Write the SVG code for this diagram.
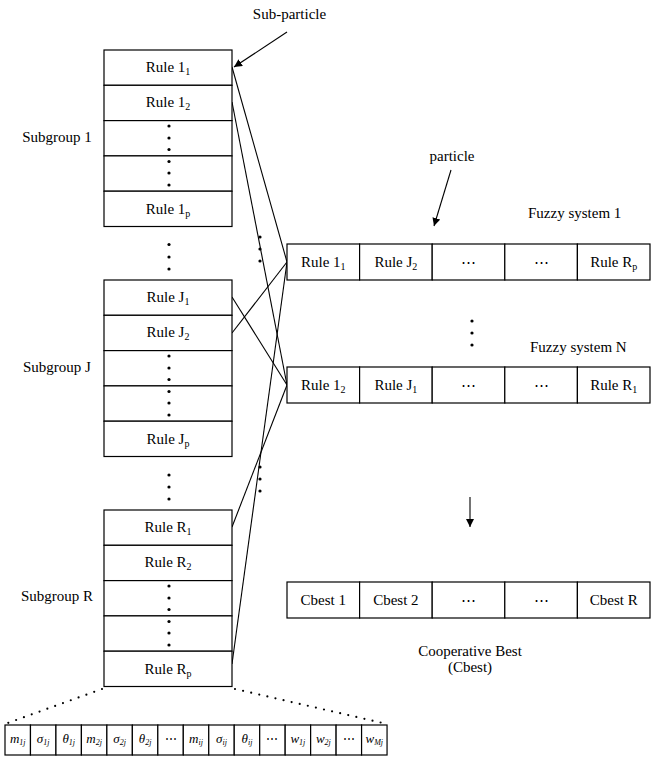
<svg xmlns="http://www.w3.org/2000/svg" width="651" height="758" viewBox="0 0 651 758" font-family="'Liberation Serif','Times New Roman',serif">
<defs>
<style>
text{font-family:"Liberation Serif","Times New Roman",serif;font-size:15px;fill:#000}
.c{text-anchor:middle}
.s{font-size:10px}
.cell{fill:#fff;stroke:#000;stroke-width:1.2}
.ln{stroke:#000;stroke-width:1.1;fill:none}
.dot{fill:#000}
.dl{stroke:#000;stroke-width:2.2;stroke-linecap:round;stroke-dasharray:0 8.3;fill:none}
.p{font-style:italic;font-size:13px}
.ps{font-size:8px}
.el{font-size:12px}
</style>
<marker id="ah" viewBox="0 0 10 10" refX="10" refY="5" markerWidth="8" markerHeight="8" orient="auto" markerUnits="userSpaceOnUse">
<path d="M0,0 L10,5 L0,10 z" fill="#000"/>
</marker>
</defs>
<rect width="651" height="758" fill="#fff"/>

<g id="connectors">
<line class="ln" x1="232" y1="67" x2="287" y2="262"/>
<line class="ln" x1="232" y1="102" x2="287" y2="385"/>
<line class="ln" x1="232" y1="297" x2="287" y2="385"/>
<line class="ln" x1="232" y1="333" x2="287" y2="262"/>
<line class="ln" x1="232" y1="527" x2="287" y2="385"/>
<line class="ln" x1="232" y1="664" x2="287" y2="262"/>
<line class="ln" x1="287" y1="32" x2="234" y2="67" marker-end="url(#ah)"/>
<line class="ln" x1="451" y1="170" x2="434" y2="226" marker-end="url(#ah)"/>
<line class="ln" x1="470" y1="497" x2="470" y2="527" marker-end="url(#ah)"/>
<line class="dl" x1="102" y1="689" x2="5" y2="724"/>
<line class="dl" x1="235" y1="689" x2="387" y2="724"/>
<circle class="dot" cx="260" cy="237" r="1.6"/>
<circle class="dot" cx="260" cy="249" r="1.6"/>
<circle class="dot" cx="260" cy="261" r="1.6"/>
<circle class="dot" cx="260" cy="467" r="1.6"/>
<circle class="dot" cx="260" cy="479" r="1.6"/>
<circle class="dot" cx="260" cy="491" r="1.6"/>
</g>

<g id="subgroup1">
<rect class="cell" x="104" y="50" width="128" height="35.3"/>
<rect class="cell" x="104" y="85.3" width="128" height="35.3"/>
<rect class="cell" x="104" y="120.6" width="128" height="35.3"/>
<rect class="cell" x="104" y="155.9" width="128" height="35.3"/>
<rect class="cell" x="104" y="191.2" width="128" height="35.3"/>
<text class="c" x="168" y="72">Rule 1<tspan class="s" dy="3">1</tspan></text>
<text class="c" x="168" y="107">Rule 1<tspan class="s" dy="3">2</tspan></text>
<text class="c" x="168" y="213.5">Rule 1<tspan class="s" dy="3">p</tspan></text>
<circle class="dot" cx="169" cy="126" r="1.6"/><circle class="dot" cx="169" cy="138" r="1.6"/><circle class="dot" cx="169" cy="149.5" r="1.6"/>
<circle class="dot" cx="169" cy="161.5" r="1.6"/><circle class="dot" cx="169" cy="173" r="1.6"/><circle class="dot" cx="169" cy="185" r="1.6"/>
<text class="c" x="57" y="142">Subgroup 1</text>
</g>

<g id="gap1">
<circle class="dot" cx="169" cy="244.5" r="1.6"/><circle class="dot" cx="169" cy="257" r="1.6"/><circle class="dot" cx="169" cy="269" r="1.6"/>
</g>

<g id="subgroupJ">
<rect class="cell" x="104" y="280" width="128" height="35.3"/>
<rect class="cell" x="104" y="315.3" width="128" height="35.3"/>
<rect class="cell" x="104" y="350.6" width="128" height="35.3"/>
<rect class="cell" x="104" y="385.9" width="128" height="35.3"/>
<rect class="cell" x="104" y="421.2" width="128" height="35.3"/>
<text class="c" x="168" y="302">Rule J<tspan class="s" dy="3">1</tspan></text>
<text class="c" x="168" y="337">Rule J<tspan class="s" dy="3">2</tspan></text>
<text class="c" x="168" y="443.5">Rule J<tspan class="s" dy="3">p</tspan></text>
<circle class="dot" cx="169" cy="356" r="1.6"/><circle class="dot" cx="169" cy="368" r="1.6"/><circle class="dot" cx="169" cy="379.5" r="1.6"/>
<circle class="dot" cx="169" cy="391.5" r="1.6"/><circle class="dot" cx="169" cy="403" r="1.6"/><circle class="dot" cx="169" cy="415" r="1.6"/>
<text class="c" x="57" y="372">Subgroup J</text>
</g>

<g id="gap2">
<circle class="dot" cx="169" cy="475" r="1.6"/><circle class="dot" cx="169" cy="487" r="1.6"/><circle class="dot" cx="169" cy="499" r="1.6"/>
</g>

<g id="subgroupR">
<rect class="cell" x="104" y="510" width="128" height="35.3"/>
<rect class="cell" x="104" y="545.3" width="128" height="35.3"/>
<rect class="cell" x="104" y="580.6" width="128" height="35.3"/>
<rect class="cell" x="104" y="615.9" width="128" height="35.3"/>
<rect class="cell" x="104" y="651.2" width="128" height="35.3"/>
<text class="c" x="168" y="532">Rule R<tspan class="s" dy="3">1</tspan></text>
<text class="c" x="168" y="567">Rule R<tspan class="s" dy="3">2</tspan></text>
<text class="c" x="168" y="673.5">Rule R<tspan class="s" dy="3">p</tspan></text>
<circle class="dot" cx="169" cy="586" r="1.6"/><circle class="dot" cx="169" cy="598" r="1.6"/><circle class="dot" cx="169" cy="609.5" r="1.6"/>
<circle class="dot" cx="169" cy="621.5" r="1.6"/><circle class="dot" cx="169" cy="633" r="1.6"/><circle class="dot" cx="169" cy="645" r="1.6"/>
<text class="c" x="57" y="601">Subgroup R</text>
</g>

<g id="labels">
<text class="c" x="289.5" y="19">Sub-particle</text>
<text class="c" x="452" y="161">particle</text>
<text x="528" y="218">Fuzzy system 1</text>
<text x="530" y="352">Fuzzy system N</text>
<circle class="dot" cx="472" cy="321" r="1.6"/><circle class="dot" cx="472" cy="333" r="1.6"/><circle class="dot" cx="472" cy="345" r="1.6"/>
<text class="c" x="470" y="656">Cooperative Best</text>
<text class="c" x="470" y="672">(Cbest)</text>
</g>

<g id="fuzzy1">
<rect class="cell" x="287" y="244" width="72.6" height="36"/>
<rect class="cell" x="359.6" y="244" width="72.6" height="36"/>
<rect class="cell" x="432.2" y="244" width="72.6" height="36"/>
<rect class="cell" x="504.8" y="244" width="72.6" height="36"/>
<rect class="cell" x="577.4" y="244" width="72.6" height="36"/>
<text class="c" x="323.3" y="266.5">Rule 1<tspan class="s" dy="3">1</tspan></text>
<text class="c" x="395.9" y="266.5">Rule J<tspan class="s" dy="3">2</tspan></text>
<text class="c" x="468.5" y="266.5">⋯</text>
<text class="c" x="541.1" y="266.5">⋯</text>
<text class="c" x="613.7" y="266.5">Rule R<tspan class="s" dy="3">p</tspan></text>
</g>

<g id="fuzzyN">
<rect class="cell" x="287" y="367" width="72.6" height="36"/>
<rect class="cell" x="359.6" y="367" width="72.6" height="36"/>
<rect class="cell" x="432.2" y="367" width="72.6" height="36"/>
<rect class="cell" x="504.8" y="367" width="72.6" height="36"/>
<rect class="cell" x="577.4" y="367" width="72.6" height="36"/>
<text class="c" x="323.3" y="389.5">Rule 1<tspan class="s" dy="3">2</tspan></text>
<text class="c" x="395.9" y="389.5">Rule J<tspan class="s" dy="3">1</tspan></text>
<text class="c" x="468.5" y="389.5">⋯</text>
<text class="c" x="541.1" y="389.5">⋯</text>
<text class="c" x="613.7" y="389.5">Rule R<tspan class="s" dy="3">1</tspan></text>
</g>

<g id="cbest">
<rect class="cell" x="287" y="582" width="72.6" height="36"/>
<rect class="cell" x="359.6" y="582" width="72.6" height="36"/>
<rect class="cell" x="432.2" y="582" width="72.6" height="36"/>
<rect class="cell" x="504.8" y="582" width="72.6" height="36"/>
<rect class="cell" x="577.4" y="582" width="72.6" height="36"/>
<text class="c" x="323.3" y="605">Cbest 1</text>
<text class="c" x="395.9" y="605">Cbest 2</text>
<text class="c" x="468.5" y="605">⋯</text>
<text class="c" x="541.1" y="605">⋯</text>
<text class="c" x="613.7" y="605">Cbest R</text>
</g>

<g id="parameters">
<rect class="cell" x="5" y="725" width="25.47" height="30"/>
<rect class="cell" x="30.47" y="725" width="25.47" height="30"/>
<rect class="cell" x="55.94" y="725" width="25.47" height="30"/>
<rect class="cell" x="81.41" y="725" width="25.47" height="30"/>
<rect class="cell" x="106.88" y="725" width="25.47" height="30"/>
<rect class="cell" x="132.35" y="725" width="25.47" height="30"/>
<rect class="cell" x="157.82" y="725" width="25.47" height="30"/>
<rect class="cell" x="183.29" y="725" width="25.47" height="30"/>
<rect class="cell" x="208.76" y="725" width="25.47" height="30"/>
<rect class="cell" x="234.23" y="725" width="25.47" height="30"/>
<rect class="cell" x="259.7" y="725" width="25.47" height="30"/>
<rect class="cell" x="285.17" y="725" width="25.47" height="30"/>
<rect class="cell" x="310.64" y="725" width="25.47" height="30"/>
<rect class="cell" x="336.11" y="725" width="25.47" height="30"/>
<rect class="cell" x="361.58" y="725" width="25.47" height="30"/>
<text class="c p" x="17.7" y="743">m<tspan class="ps" dy="2">1j</tspan></text>
<text class="c p" x="43.2" y="743">σ<tspan class="ps" dy="2">1j</tspan></text>
<text class="c p" x="68.7" y="743">θ<tspan class="ps" dy="2">1j</tspan></text>
<text class="c p" x="94.1" y="743">m<tspan class="ps" dy="2">2j</tspan></text>
<text class="c p" x="119.6" y="743">σ<tspan class="ps" dy="2">2j</tspan></text>
<text class="c p" x="145.1" y="743">θ<tspan class="ps" dy="2">2j</tspan></text>
<text class="c el" x="170.6" y="743">⋯</text>
<text class="c p" x="196" y="743">m<tspan class="ps" dy="2">ij</tspan></text>
<text class="c p" x="221.5" y="743">σ<tspan class="ps" dy="2">ij</tspan></text>
<text class="c p" x="247" y="743">θ<tspan class="ps" dy="2">ij</tspan></text>
<text class="c el" x="272.4" y="743">⋯</text>
<text class="c p" x="297.9" y="743">w<tspan class="ps" dy="2">1j</tspan></text>
<text class="c p" x="323.4" y="743">w<tspan class="ps" dy="2">2j</tspan></text>
<text class="c el" x="348.8" y="743">⋯</text>
<text class="c p" x="374.3" y="743">w<tspan class="ps" dy="2">Mj</tspan></text>
</g>
</svg>
